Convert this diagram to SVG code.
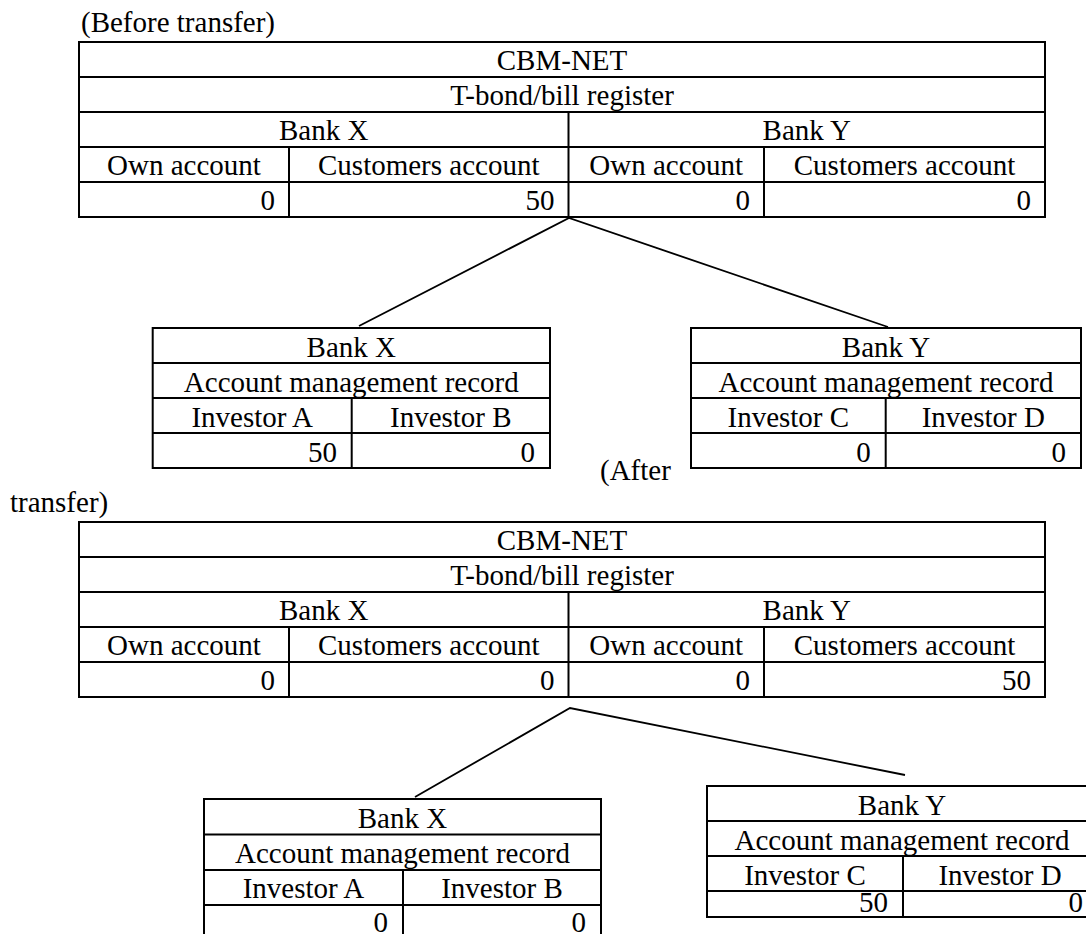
<svg xmlns="http://www.w3.org/2000/svg" width="1086" height="934" viewBox="0 0 1086 934">
  <style>
    text { font-family: "Liberation Serif", "Times New Roman", serif; font-size: 29px; fill: #000; }
    .c { text-anchor: middle; }
    .r { text-anchor: end; }
    .grid { fill: none; stroke: #000; stroke-width: 2; }
    .link { fill: none; stroke: #000; stroke-width: 1.8; }
  </style>
  <rect width="1086" height="934" fill="#fff"/>

  <!-- captions -->
  <g id="captions">
    <text x="81" y="32">(Before transfer)</text>
    <text x="600" y="480">(After</text>
    <text x="10" y="512">transfer)</text>
  </g>

  <!-- connectors between register and bank records -->
  <g id="connectors">
    <polyline class="link" points="359,326 569,218 888,327"/>
    <polyline class="link" points="415,797 570,708 905,775"/>
  </g>

  <!-- CBM-NET register, before -->
  <g id="register-before">
    <path class="grid" d="M79,42 H1045 V217 H79 Z M79,77 H1045 M79,112 H1045 M79,147 H1045 M79,182 H1045 M568.5,112 V217 M289,147 V217 M764,147 V217"/>
    <text class="c" x="562" y="70">CBM-NET</text>
    <text class="c" x="562" y="105">T-bond/bill register</text>
    <text class="c" x="323.75" y="140">Bank X</text>
    <text class="c" x="806.75" y="140">Bank Y</text>
    <text class="c" x="184" y="175">Own account</text>
    <text class="c" x="428.75" y="175">Customers account</text>
    <text class="c" x="666.25" y="175">Own account</text>
    <text class="c" x="904.5" y="175">Customers account</text>
    <text class="r" x="275" y="210">0</text>
    <text class="r" x="554.5" y="210">50</text>
    <text class="r" x="750" y="210">0</text>
    <text class="r" x="1031" y="210">0</text>
  </g>

  <!-- Bank X record, before -->
  <g id="bankx-before">
    <path class="grid" d="M152.7,328 H550 V468 H152.7 Z M152.7,363 H550 M152.7,398 H550 M152.7,433 H550 M351.7,398 V468"/>
    <text class="c" x="351.3" y="357">Bank X</text>
    <text class="c" x="351.3" y="392">Account management record</text>
    <text class="c" x="252.2" y="427">Investor A</text>
    <text class="c" x="450.8" y="427">Investor B</text>
    <text class="r" x="337" y="462">50</text>
    <text class="r" x="535" y="462">0</text>
  </g>

  <!-- Bank Y record, before -->
  <g id="banky-before">
    <path class="grid" d="M691,328 H1081 V468 H691 Z M691,363 H1081 M691,398 H1081 M691,433 H1081 M885.7,398 V468"/>
    <text class="c" x="886" y="357">Bank Y</text>
    <text class="c" x="886" y="392">Account management record</text>
    <text class="c" x="788.3" y="427">Investor C</text>
    <text class="c" x="983.3" y="427">Investor D</text>
    <text class="r" x="870.7" y="462">0</text>
    <text class="r" x="1066" y="462">0</text>
  </g>

  <!-- CBM-NET register, after -->
  <g id="register-after">
    <path class="grid" d="M79,522 H1045 V697 H79 Z M79,557 H1045 M79,592 H1045 M79,627 H1045 M79,662 H1045 M568.5,592 V697 M289,627 V697 M764,627 V697"/>
    <text class="c" x="562" y="550">CBM-NET</text>
    <text class="c" x="562" y="585">T-bond/bill register</text>
    <text class="c" x="323.75" y="620">Bank X</text>
    <text class="c" x="806.75" y="620">Bank Y</text>
    <text class="c" x="184" y="655">Own account</text>
    <text class="c" x="428.75" y="655">Customers account</text>
    <text class="c" x="666.25" y="655">Own account</text>
    <text class="c" x="904.5" y="655">Customers account</text>
    <text class="r" x="275" y="690">0</text>
    <text class="r" x="554.5" y="690">0</text>
    <text class="r" x="750" y="690">0</text>
    <text class="r" x="1031" y="690">50</text>
  </g>

  <!-- Bank X record, after (bottom edge runs past the page) -->
  <g id="bankx-after">
    <path class="grid" d="M204,799 H601 V940 H204 Z M204,834.5 H601 M204,870 H601 M204,905 H601 M403,870 V940"/>
    <text class="c" x="402.5" y="828">Bank X</text>
    <text class="c" x="402.5" y="863">Account management record</text>
    <text class="c" x="303.5" y="898">Investor A</text>
    <text class="c" x="502" y="898">Investor B</text>
    <text class="r" x="388" y="931.5">0</text>
    <text class="r" x="586" y="931.5">0</text>
  </g>

  <!-- Bank Y record, after (right edge runs past the page) -->
  <g id="banky-after">
    <path class="grid" d="M707,786 H1097 V917 H707 Z M707,821 H1097 M707,856 H1097 M707,891 H1097 M903,856 V917"/>
    <text class="c" x="902" y="815">Bank Y</text>
    <text class="c" x="902" y="850">Account management record</text>
    <text class="c" x="805" y="885">Investor C</text>
    <text class="c" x="1000" y="885">Investor D</text>
    <text class="r" x="888" y="912">50</text>
    <text class="r" x="1083" y="912">0</text>
  </g>
</svg>
